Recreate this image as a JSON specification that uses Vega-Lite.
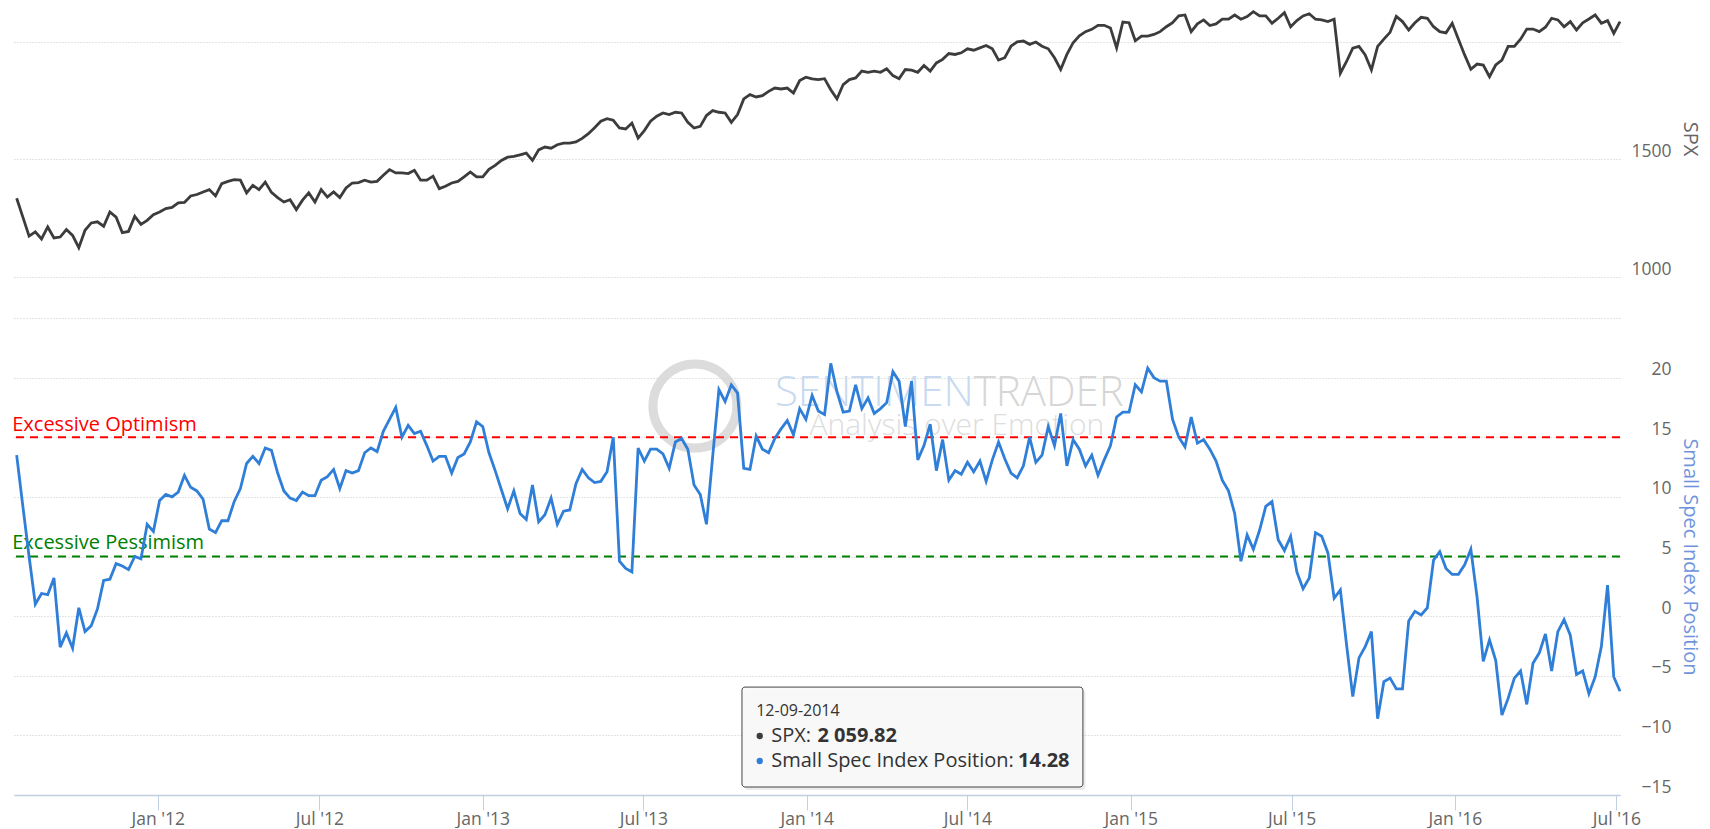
{
  "$schema": "https://vega.github.io/schema/vega-lite/v6.json",
  "padding": {"left": 11, "top": 0, "right": 6, "bottom": 0},
  "background": "white",
  "spacing": 40,
  "config": {
    "font": "Open Sans",
    "view": {"stroke": null},
    "axis": {"labelFont": "Open Sans", "titleFont": "Open Sans", "labelColor": "#666666", "labelFontSize": 17.5, "gridColor": "#c8c8c8", "gridDash": [1, 2], "gridWidth": 1}
  },
  "datasets": {
    "weekly": [
      {"date":"2011-07-26","spx":1335,"ssi":13.5},{"date":"2011-08-02","spx":1255,"ssi":9.2},{"date":"2011-08-09","spx":1174,"ssi":5.0},{"date":"2011-08-16","spx":1192,"ssi":1.0},{"date":"2011-08-23","spx":1162,"ssi":1.9},{"date":"2011-08-30","spx":1213,"ssi":1.8},{"date":"2011-09-06","spx":1166,"ssi":3.2},{"date":"2011-09-13","spx":1170,"ssi":-2.6},{"date":"2011-09-20","spx":1202,"ssi":-1.4},{"date":"2011-09-27","spx":1177,"ssi":-2.7},
      {"date":"2011-10-04","spx":1125,"ssi":0.7},{"date":"2011-10-11","spx":1199,"ssi":-1.3},{"date":"2011-10-18","spx":1230,"ssi":-0.8},{"date":"2011-10-25","spx":1235,"ssi":0.6},{"date":"2011-11-01","spx":1216,"ssi":3.0},{"date":"2011-11-08","spx":1277,"ssi":3.1},{"date":"2011-11-15","spx":1255,"ssi":4.4},{"date":"2011-11-22","spx":1189,"ssi":4.2},{"date":"2011-11-29","spx":1194,"ssi":3.9},{"date":"2011-12-06","spx":1258,"ssi":5.0},
      {"date":"2011-12-13","spx":1224,"ssi":4.8},{"date":"2011-12-20","spx":1241,"ssi":7.7},{"date":"2011-12-27","spx":1265,"ssi":7.1},{"date":"2012-01-03","spx":1277,"ssi":9.7},{"date":"2012-01-10","spx":1291,"ssi":10.2},{"date":"2012-01-17","spx":1296,"ssi":10.0},{"date":"2012-01-24","spx":1315,"ssi":10.4},{"date":"2012-01-31","spx":1317,"ssi":11.8},{"date":"2012-02-07","spx":1345,"ssi":10.8},{"date":"2012-02-14","spx":1351,"ssi":10.5},
      {"date":"2012-02-21","spx":1362,"ssi":9.8},{"date":"2012-02-28","spx":1372,"ssi":7.3},{"date":"2012-03-06","spx":1345,"ssi":7.0},{"date":"2012-03-13","spx":1397,"ssi":8.0},{"date":"2012-03-20","spx":1407,"ssi":8.0},{"date":"2012-03-27","spx":1414,"ssi":9.6},{"date":"2012-04-03","spx":1412,"ssi":10.7},{"date":"2012-04-10","spx":1358,"ssi":12.8},{"date":"2012-04-17","spx":1390,"ssi":13.4},{"date":"2012-04-24","spx":1372,"ssi":12.8},
      {"date":"2012-05-01","spx":1404,"ssi":14.1},{"date":"2012-05-08","spx":1360,"ssi":13.9},{"date":"2012-05-15","spx":1338,"ssi":12.0},{"date":"2012-05-22","spx":1319,"ssi":10.5},{"date":"2012-05-29","spx":1329,"ssi":9.9},{"date":"2012-06-05","spx":1287,"ssi":9.7},{"date":"2012-06-12","spx":1327,"ssi":10.4},{"date":"2012-06-19","spx":1358,"ssi":10.1},{"date":"2012-06-26","spx":1319,"ssi":10.1},{"date":"2012-07-03","spx":1372,"ssi":11.4},
      {"date":"2012-07-10","spx":1340,"ssi":11.7},{"date":"2012-07-17","spx":1362,"ssi":12.3},{"date":"2012-07-24","spx":1338,"ssi":10.7},{"date":"2012-07-31","spx":1379,"ssi":12.2},{"date":"2012-08-07","spx":1400,"ssi":12.0},{"date":"2012-08-14","spx":1402,"ssi":12.2},{"date":"2012-08-21","spx":1412,"ssi":13.7},{"date":"2012-08-28","spx":1404,"ssi":14.1},{"date":"2012-09-04","spx":1407,"ssi":13.8},{"date":"2012-09-11","spx":1433,"ssi":15.5},
      {"date":"2012-09-18","spx":1457,"ssi":16.5},{"date":"2012-09-25","spx":1443,"ssi":17.5},{"date":"2012-10-02","spx":1443,"ssi":15.0},{"date":"2012-10-09","spx":1440,"ssi":16.0},{"date":"2012-10-16","spx":1454,"ssi":15.3},{"date":"2012-10-23","spx":1412,"ssi":15.5},{"date":"2012-10-30","spx":1412,"ssi":14.3},{"date":"2012-11-06","spx":1429,"ssi":13.0},{"date":"2012-11-13","spx":1376,"ssi":13.4},{"date":"2012-11-20","spx":1386,"ssi":13.4},
      {"date":"2012-11-27","spx":1400,"ssi":12.0},{"date":"2012-12-04","spx":1407,"ssi":13.3},{"date":"2012-12-11","spx":1426,"ssi":13.6},{"date":"2012-12-18","spx":1447,"ssi":14.6},{"date":"2012-12-25","spx":1426,"ssi":16.3},{"date":"2013-01-01","spx":1426,"ssi":15.9},{"date":"2013-01-08","spx":1458,"ssi":13.7},{"date":"2013-01-15","spx":1475,"ssi":12.2},{"date":"2013-01-22","spx":1496,"ssi":10.6},{"date":"2013-01-29","spx":1510,"ssi":9.0},
      {"date":"2013-02-05","spx":1513,"ssi":10.5},{"date":"2013-02-12","spx":1520,"ssi":8.6},{"date":"2013-02-19","spx":1527,"ssi":8.1},{"date":"2013-02-26","spx":1496,"ssi":11.0},{"date":"2013-03-05","spx":1541,"ssi":7.9},{"date":"2013-03-12","spx":1553,"ssi":8.5},{"date":"2013-03-19","spx":1548,"ssi":9.9},{"date":"2013-03-26","spx":1563,"ssi":7.7},{"date":"2013-04-02","spx":1570,"ssi":8.8},{"date":"2013-04-09","spx":1570,"ssi":8.9},
      {"date":"2013-04-16","spx":1575,"ssi":11.1},{"date":"2013-04-23","spx":1590,"ssi":12.3},{"date":"2013-04-30","spx":1610,"ssi":11.6},{"date":"2013-05-07","spx":1635,"ssi":11.2},{"date":"2013-05-14","spx":1663,"ssi":11.3},{"date":"2013-05-21","spx":1674,"ssi":12.1},{"date":"2013-05-28","spx":1667,"ssi":15.0},{"date":"2013-06-04","spx":1634,"ssi":4.6},{"date":"2013-06-11","spx":1630,"ssi":4.0},{"date":"2013-06-18","spx":1655,"ssi":3.7},
      {"date":"2013-06-25","spx":1591,"ssi":14.1},{"date":"2013-07-02","spx":1623,"ssi":13.0},{"date":"2013-07-09","spx":1663,"ssi":14.0},{"date":"2013-07-16","spx":1684,"ssi":14.0},{"date":"2013-07-23","spx":1698,"ssi":13.6},{"date":"2013-07-30","spx":1691,"ssi":12.4},{"date":"2013-08-06","spx":1701,"ssi":14.6},{"date":"2013-08-13","spx":1698,"ssi":14.9},{"date":"2013-08-20","spx":1658,"ssi":14.0},{"date":"2013-08-27","spx":1634,"ssi":11.0},
      {"date":"2013-09-03","spx":1641,"ssi":10.2},{"date":"2013-09-10","spx":1687,"ssi":7.7},{"date":"2013-09-17","spx":1708,"ssi":13.4},{"date":"2013-09-24","spx":1701,"ssi":19.0},{"date":"2013-10-01","spx":1698,"ssi":18.0},{"date":"2013-10-08","spx":1658,"ssi":19.4},{"date":"2013-10-15","spx":1691,"ssi":18.7},{"date":"2013-10-22","spx":1758,"ssi":12.4},{"date":"2013-10-29","spx":1776,"ssi":12.3},{"date":"2013-11-05","spx":1766,"ssi":15.1},
      {"date":"2013-11-12","spx":1772,"ssi":14.0},{"date":"2013-11-19","spx":1790,"ssi":13.7},{"date":"2013-11-26","spx":1804,"ssi":14.9},{"date":"2013-12-03","spx":1800,"ssi":15.7},{"date":"2013-12-10","spx":1804,"ssi":16.4},{"date":"2013-12-17","spx":1783,"ssi":15.2},{"date":"2013-12-24","spx":1836,"ssi":17.4},{"date":"2013-12-31","spx":1850,"ssi":16.5},{"date":"2014-01-07","spx":1843,"ssi":18.5},{"date":"2014-01-14","spx":1840,"ssi":17.2},
      {"date":"2014-01-21","spx":1844,"ssi":16.9},{"date":"2014-01-28","spx":1797,"ssi":21.2},{"date":"2014-02-04","spx":1758,"ssi":18.8},{"date":"2014-02-11","spx":1819,"ssi":17.1},{"date":"2014-02-18","spx":1840,"ssi":17.2},{"date":"2014-02-25","spx":1847,"ssi":19.4},{"date":"2014-03-04","spx":1876,"ssi":17.4},{"date":"2014-03-11","spx":1871,"ssi":18.3},{"date":"2014-03-18","spx":1876,"ssi":17.0},{"date":"2014-03-25","spx":1871,"ssi":17.4},
      {"date":"2014-04-01","spx":1886,"ssi":17.9},{"date":"2014-04-08","spx":1857,"ssi":20.5},{"date":"2014-04-15","spx":1844,"ssi":19.7},{"date":"2014-04-22","spx":1883,"ssi":15.9},{"date":"2014-04-29","spx":1880,"ssi":19.7},{"date":"2014-05-06","spx":1871,"ssi":13.1},{"date":"2014-05-13","spx":1900,"ssi":14.3},{"date":"2014-05-20","spx":1876,"ssi":16.1},{"date":"2014-05-27","spx":1911,"ssi":12.2},{"date":"2014-06-03","spx":1926,"ssi":14.8},
      {"date":"2014-06-10","spx":1951,"ssi":11.4},{"date":"2014-06-17","spx":1947,"ssi":12.2},{"date":"2014-06-24","spx":1954,"ssi":11.9},{"date":"2014-07-01","spx":1971,"ssi":12.9},{"date":"2014-07-08","spx":1965,"ssi":12.1},{"date":"2014-07-15","spx":1975,"ssi":13.0},{"date":"2014-07-22","spx":1985,"ssi":11.3},{"date":"2014-07-29","spx":1971,"ssi":13.1},{"date":"2014-08-05","spx":1923,"ssi":14.6},{"date":"2014-08-12","spx":1933,"ssi":13.2},
      {"date":"2014-08-19","spx":1982,"ssi":12.0},{"date":"2014-08-26","spx":2001,"ssi":11.6},{"date":"2014-09-02","spx":2004,"ssi":12.6},{"date":"2014-09-09","spx":1990,"ssi":15.0},{"date":"2014-09-16","spx":2000,"ssi":12.9},{"date":"2014-09-23","spx":1982,"ssi":13.5},{"date":"2014-09-30","spx":1971,"ssi":15.9},{"date":"2014-10-07","spx":1933,"ssi":14.3},{"date":"2014-10-14","spx":1883,"ssi":17.0},{"date":"2014-10-21","spx":1947,"ssi":12.6},
      {"date":"2014-10-28","spx":1997,"ssi":14.8},{"date":"2014-11-04","spx":2026,"ssi":14.0},{"date":"2014-11-11","spx":2044,"ssi":12.6},{"date":"2014-11-18","spx":2054,"ssi":13.5},{"date":"2014-11-25","spx":2071,"ssi":11.8},{"date":"2014-12-02","spx":2071,"ssi":13.1},{"date":"2014-12-09","spx":2059.82,"ssi":14.28},{"date":"2014-12-16","spx":1975,"ssi":16.7},{"date":"2014-12-23","spx":2085,"ssi":17.1},{"date":"2014-12-30","spx":2082,"ssi":17.1},
      {"date":"2015-01-06","spx":2005,"ssi":19.4},{"date":"2015-01-13","spx":2025,"ssi":18.8},{"date":"2015-01-20","spx":2025,"ssi":20.8},{"date":"2015-01-27","spx":2032,"ssi":20.0},{"date":"2015-02-03","spx":2044,"ssi":19.7},{"date":"2015-02-10","spx":2065,"ssi":19.7},{"date":"2015-02-17","spx":2082,"ssi":16.5},{"date":"2015-02-24","spx":2111,"ssi":15.0},{"date":"2015-03-03","spx":2115,"ssi":14.2},{"date":"2015-03-10","spx":2044,"ssi":16.7},
      {"date":"2015-03-17","spx":2077,"ssi":14.5},{"date":"2015-03-24","spx":2094,"ssi":14.8},{"date":"2015-03-31","spx":2070,"ssi":14.0},{"date":"2015-04-07","spx":2077,"ssi":13.0},{"date":"2015-04-14","spx":2097,"ssi":11.4},{"date":"2015-04-21","spx":2097,"ssi":10.5},{"date":"2015-04-28","spx":2115,"ssi":8.6},{"date":"2015-05-05","spx":2097,"ssi":4.6},{"date":"2015-05-12","spx":2108,"ssi":6.8},{"date":"2015-05-19","spx":2129,"ssi":5.6},
      {"date":"2015-05-26","spx":2111,"ssi":7.2},{"date":"2015-06-02","spx":2111,"ssi":9.2},{"date":"2015-06-09","spx":2080,"ssi":9.6},{"date":"2015-06-16","spx":2101,"ssi":6.4},{"date":"2015-06-23","spx":2125,"ssi":5.5},{"date":"2015-06-30","spx":2065,"ssi":6.7},{"date":"2015-07-07","spx":2091,"ssi":3.7},{"date":"2015-07-14","spx":2111,"ssi":2.3},{"date":"2015-07-21","spx":2120,"ssi":3.2},{"date":"2015-07-28","spx":2097,"ssi":7.0},
      {"date":"2015-08-04","spx":2094,"ssi":6.7},{"date":"2015-08-11","spx":2087,"ssi":5.3},{"date":"2015-08-18","spx":2097,"ssi":1.5},{"date":"2015-08-25","spx":1867,"ssi":2.2},{"date":"2015-09-01","spx":1917,"ssi":-2.4},{"date":"2015-09-08","spx":1974,"ssi":-6.75},{"date":"2015-09-15","spx":1981,"ssi":-3.5},{"date":"2015-09-22","spx":1945,"ssi":-2.56},{"date":"2015-09-29","spx":1881,"ssi":-1.3},{"date":"2015-10-06","spx":1981,"ssi":-8.6},
      {"date":"2015-10-13","spx":2012,"ssi":-5.5},{"date":"2015-10-20","spx":2041,"ssi":-5.2},{"date":"2015-10-27","spx":2109,"ssi":-6.1},{"date":"2015-11-03","spx":2087,"ssi":-6.1},{"date":"2015-11-10","spx":2051,"ssi":-0.4},{"date":"2015-11-17","spx":2082,"ssi":0.4},{"date":"2015-11-24","spx":2105,"ssi":0.1},{"date":"2015-12-01","spx":2101,"ssi":0.7},{"date":"2015-12-08","spx":2065,"ssi":4.7},{"date":"2015-12-15","spx":2044,"ssi":5.4},
      {"date":"2015-12-22","spx":2039,"ssi":4.0},{"date":"2015-12-29","spx":2080,"ssi":3.5},{"date":"2016-01-05","spx":2012,"ssi":3.5},{"date":"2016-01-12","spx":1945,"ssi":4.3},{"date":"2016-01-19","spx":1884,"ssi":5.6},{"date":"2016-01-26","spx":1906,"ssi":1.6},{"date":"2016-02-02","spx":1902,"ssi":-3.8},{"date":"2016-02-09","spx":1852,"ssi":-2.0},{"date":"2016-02-16","spx":1902,"ssi":-3.7},{"date":"2016-02-23","spx":1923,"ssi":-8.3},
      {"date":"2016-03-01","spx":1981,"ssi":-6.9},{"date":"2016-03-08","spx":1981,"ssi":-5.2},{"date":"2016-03-15","spx":2012,"ssi":-4.6},{"date":"2016-03-22","spx":2055,"ssi":-7.4},{"date":"2016-03-29","spx":2055,"ssi":-3.95},{"date":"2016-04-05","spx":2044,"ssi":-3.1},{"date":"2016-04-12","spx":2063,"ssi":-1.5},{"date":"2016-04-19","spx":2101,"ssi":-4.6},{"date":"2016-04-26","spx":2094,"ssi":-1.3},{"date":"2016-05-03","spx":2065,"ssi":-0.3},
      {"date":"2016-05-10","spx":2087,"ssi":-1.6},{"date":"2016-05-17","spx":2051,"ssi":-4.9},{"date":"2016-05-24","spx":2082,"ssi":-4.6},{"date":"2016-05-31","spx":2098,"ssi":-6.5},{"date":"2016-06-07","spx":2115,"ssi":-5.1},{"date":"2016-06-14","spx":2080,"ssi":-2.56},{"date":"2016-06-21","spx":2091,"ssi":2.6},{"date":"2016-06-28","spx":2037,"ssi":-5.1},{"date":"2016-07-05","spx":2087,"ssi":-6.3}
    ],
    "optimism": [{"level": 15, "labelY": 15.52, "date": "2011-07-21", "label": "Excessive Optimism"}],
    "pessimism": [{"level": 5, "labelY": 5.63, "date": "2011-07-21", "label": "Excessive Pessimism"}],
    "logo": [{"date": "2013-08-28", "v": 17.62}],
    "brand": [{"date": "2014-07-08", "v": 18.74, "left": "SENTIMEN", "right": "TRADER"}],
    "motto": [{"date": "2014-06-19", "v": 15.94, "t": "Analysis over Emotion"}],
    "tipshadow": [{"x1": "2013-10-23", "x2": "2014-11-11", "y1": -6.2, "y2": -14.58}],
    "tipbox": [{"x1": "2013-10-20", "x2": "2014-11-08", "y1": -5.95, "y2": -14.33}],
    "tipdate": [{"date": "2013-11-05", "v": -7.96, "t": "12-09-2014"}],
    "tipdots": [{"date": "2013-11-09", "v": -10.05, "s": "SPX"}, {"date": "2013-11-09", "v": -12.15, "s": "Small Spec Index Position"}],
    "tiplabels": [{"date": "2013-11-22", "v": -10.05, "t": "SPX:"}, {"date": "2013-11-22", "v": -12.15, "t": "Small Spec Index Position:"}],
    "tipvalues": [{"date": "2014-01-13", "v": -10.05, "t": "2 059.82"}, {"date": "2014-08-27", "v": -12.15, "t": "14.28"}]
  },
  "vconcat": [
    {
      "width": 1606,
      "height": 277,
      "data": {"name": "weekly"},
      "mark": {"type": "line", "color": "#3c3c3c", "strokeWidth": 2.8},
      "encoding": {
        "x": {"field": "date", "type": "temporal", "scale": {"type": "utc", "domain": [{"year": 2011, "month": 7, "date": 23, "utc": true}, {"year": 2016, "month": 7, "date": 5, "utc": true}]}, "axis": null},
        "y": {"field": "spx", "type": "quantitative", "scale": {"domain": [1000, 2178.7], "zero": false, "nice": false},
          "axis": {"orient": "right", "values": [1000, 1500, 2000], "labelExpr": "datum.value == 2000 ? '' : datum.label", "format": "d", "title": "SPX", "titleColor": "#666666", "titleFontSize": 20, "titleFontWeight": "normal", "titlePadding": 8, "ticks": false, "tickSize": 0, "domain": false, "labelAlign": "right", "labelPadding": 51, "labelBaseline": "alphabetic", "labelOffset": -3, "grid": true}}
      }
    },
    {
      "width": 1606,
      "height": 477,
      "layer": [
        {
          "data": {"name": "logo"},
          "mark": {"type": "point", "shape": "circle", "filled": false, "stroke": "#d6d6d6", "strokeWidth": 9, "size": 7056, "opacity": 0.85},
          "encoding": {
            "x": {"field": "date", "type": "temporal", "scale": {"type": "utc", "domain": [{"year": 2011, "month": 7, "date": 23, "utc": true}, {"year": 2016, "month": 7, "date": 5, "utc": true}]},
              "axis": {"orient": "bottom", "title": null, "grid": false, "format": "%b '%y", "labelFlush": false, "labelOverlap": false,
                "values": [{"year": 2012, "month": 1, "date": 1, "utc": true}, {"year": 2012, "month": 7, "date": 1, "utc": true}, {"year": 2013, "month": 1, "date": 1, "utc": true}, {"year": 2013, "month": 7, "date": 1, "utc": true}, {"year": 2014, "month": 1, "date": 1, "utc": true}, {"year": 2014, "month": 7, "date": 1, "utc": true}, {"year": 2015, "month": 1, "date": 1, "utc": true}, {"year": 2015, "month": 7, "date": 1, "utc": true}, {"year": 2016, "month": 1, "date": 1, "utc": true}, {"year": 2016, "month": 7, "date": 1, "utc": true}],
                "domainColor": "#c0d0e0", "domainWidth": 1.5, "tickColor": "#c0d0e0", "tickSize": 15, "tickWidth": 1, "labelPadding": 0, "labelFontSize": 17.5, "labelColor": "#666666"}},
            "y": {"field": "v", "type": "quantitative", "scale": {"domain": [-15, 25], "zero": false, "nice": false},
              "axis": {"orient": "right", "values": [-15, -10, -5, 0, 5, 10, 15, 20, 25], "labelExpr": "datum.value == 25 ? '' : datum.label", "title": "Small Spec Index Position", "titleColor": "#7094dc", "titleFontSize": 20, "titleFontWeight": "normal", "titlePadding": 8, "ticks": false, "tickSize": 0, "domain": false, "labelAlign": "right", "labelPadding": 51, "labelBaseline": "alphabetic", "labelOffset": -3, "grid": true}}
          }
        },
        {
          "data": {"name": "brand"},
          "mark": {"type": "text", "align": "right", "baseline": "middle", "fontSize": 42, "fontWeight": 300, "color": "#c8daef"},
          "encoding": {
            "x": {"field": "date", "type": "temporal"},
            "y": {"field": "v", "type": "quantitative"},
            "text": {"field": "left"}
          }
        },
        {
          "data": {"name": "brand"},
          "mark": {"type": "text", "align": "left", "baseline": "middle", "fontSize": 42, "fontWeight": 300, "color": "#d6d6d6"},
          "encoding": {
            "x": {"field": "date", "type": "temporal"},
            "y": {"field": "v", "type": "quantitative"},
            "text": {"field": "right"}
          }
        },
        {
          "data": {"name": "motto"},
          "mark": {"type": "text", "align": "center", "baseline": "middle", "fontSize": 30, "fontWeight": 300, "color": "#dddddd"},
          "encoding": {
            "x": {"field": "date", "type": "temporal"},
            "y": {"field": "v", "type": "quantitative"},
            "text": {"field": "t"}
          }
        },
        {
          "data": {"name": "optimism"},
          "mark": {"type": "rule", "color": "#ff0000", "strokeWidth": 2, "strokeDash": [8, 6]},
          "encoding": {"y": {"field": "level", "type": "quantitative"}}
        },
        {
          "data": {"name": "pessimism"},
          "mark": {"type": "rule", "color": "#008000", "strokeWidth": 2, "strokeDash": [8, 6]},
          "encoding": {"y": {"field": "level", "type": "quantitative"}}
        },
        {
          "data": {"name": "optimism"},
          "mark": {"type": "text", "align": "left", "baseline": "alphabetic", "fontSize": 20, "color": "#ff0000"},
          "encoding": {
            "x": {"field": "date", "type": "temporal"},
            "y": {"field": "labelY", "type": "quantitative"},
            "text": {"field": "label"}
          }
        },
        {
          "data": {"name": "pessimism"},
          "mark": {"type": "text", "align": "left", "baseline": "alphabetic", "fontSize": 20, "color": "#008000"},
          "encoding": {
            "x": {"field": "date", "type": "temporal"},
            "y": {"field": "labelY", "type": "quantitative"},
            "text": {"field": "label"}
          }
        },
        {
          "data": {"name": "weekly"},
          "mark": {"type": "line", "color": "#2f7ed8", "strokeWidth": 2.8},
          "encoding": {
            "x": {"field": "date", "type": "temporal"},
            "y": {"field": "ssi", "type": "quantitative"}
          }
        },
        {
          "data": {"name": "tipshadow"},
          "mark": {"type": "rect", "fill": "#000000", "fillOpacity": 0.08, "cornerRadius": 3},
          "encoding": {
            "x": {"field": "x1", "type": "temporal"},
            "x2": {"field": "x2"},
            "y": {"field": "y1", "type": "quantitative"},
            "y2": {"field": "y2"}
          }
        },
        {
          "data": {"name": "tipbox"},
          "mark": {"type": "rect", "fill": "#f9f9f9", "fillOpacity": 0.95, "stroke": "#444444", "strokeWidth": 1, "cornerRadius": 3},
          "encoding": {
            "x": {"field": "x1", "type": "temporal"},
            "x2": {"field": "x2"},
            "y": {"field": "y1", "type": "quantitative"},
            "y2": {"field": "y2"}
          }
        },
        {
          "data": {"name": "tipdate"},
          "mark": {"type": "text", "align": "left", "baseline": "middle", "fontSize": 16, "color": "#333333"},
          "encoding": {
            "x": {"field": "date", "type": "temporal"},
            "y": {"field": "v", "type": "quantitative"},
            "text": {"field": "t"}
          }
        },
        {
          "data": {"name": "tipdots"},
          "mark": {"type": "point", "shape": "circle", "filled": true, "size": 40, "opacity": 1},
          "encoding": {
            "x": {"field": "date", "type": "temporal"},
            "y": {"field": "v", "type": "quantitative"},
            "color": {"field": "s", "type": "nominal", "scale": {"domain": ["SPX", "Small Spec Index Position"], "range": ["#3c3c3c", "#2f7ed8"]}, "legend": null}
          }
        },
        {
          "data": {"name": "tiplabels"},
          "mark": {"type": "text", "align": "left", "baseline": "middle", "fontSize": 20, "color": "#333333"},
          "encoding": {
            "x": {"field": "date", "type": "temporal"},
            "y": {"field": "v", "type": "quantitative"},
            "text": {"field": "t"}
          }
        },
        {
          "data": {"name": "tipvalues"},
          "mark": {"type": "text", "align": "left", "baseline": "middle", "fontSize": 20, "fontWeight": "bold", "color": "#333333"},
          "encoding": {
            "x": {"field": "date", "type": "temporal"},
            "y": {"field": "v", "type": "quantitative"},
            "text": {"field": "t"}
          }
        }
      ]
    }
  ]
}
